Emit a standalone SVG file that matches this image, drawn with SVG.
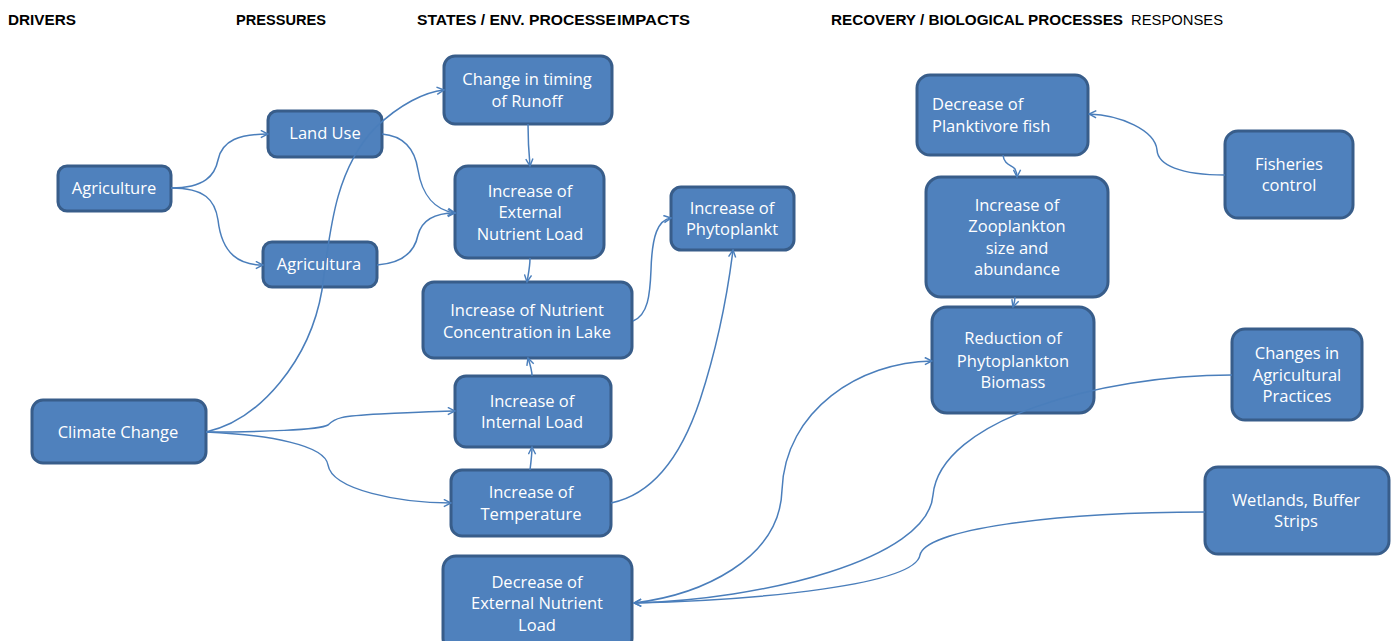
<svg xmlns="http://www.w3.org/2000/svg" width="1396" height="641" viewBox="0 0 1396 641">
  <style>
    .hdr { font-family: "Liberation Sans", Arial, sans-serif; font-size: 14px; fill: #000; }
    .b { font-weight: bold; }
    .node rect { fill: #4f81bd; stroke: #385d8a; stroke-width: 3; }
    .node text { font-family: "Open Sans", "Liberation Sans", sans-serif; font-size: 16.5px; fill: #fff; text-anchor: middle; }
    .node text.left { text-anchor: start; }
    .conn path { fill: none; stroke: #4a7ebb; stroke-width: 1.5; marker-end: url(#arr); }
  </style>
  <defs>
    <marker id="arr" viewBox="0 0 10 10" refX="9" refY="5" markerWidth="9" markerHeight="9" markerUnits="userSpaceOnUse" orient="auto">
      <path d="M1,1 L9,5 L1,9" fill="none" stroke="#4a7ebb" stroke-width="1.6"/>
    </marker>
  </defs>
  <rect width="1396" height="641" fill="#fff"/>

  <!-- column headings -->
  <g id="headers">
    <text class="hdr b" x="8" y="25" textLength="68" lengthAdjust="spacingAndGlyphs">DRIVERS</text>
    <text class="hdr b" x="236" y="25" textLength="90" lengthAdjust="spacingAndGlyphs">PRESSURES</text>
    <text class="hdr b" x="417" y="25" textLength="199" lengthAdjust="spacingAndGlyphs">STATES / ENV. PROCESSE</text>
    <text class="hdr b" x="617" y="25" textLength="73" lengthAdjust="spacingAndGlyphs">IMPACTS</text>
    <text class="hdr b" x="831" y="25" textLength="292" lengthAdjust="spacingAndGlyphs">RECOVERY / BIOLOGICAL PROCESSES</text>
    <text class="hdr" x="1131" y="25" textLength="92" lengthAdjust="spacingAndGlyphs">RESPONSES</text>
  </g>

  <!-- nodes -->
  <g id="agriculture" class="node">
    <rect x="58" y="166" width="113" height="45" rx="9"/>
    <text x="114" y="194">Agriculture</text>
  </g>
  <g id="land-use" class="node">
    <rect x="268" y="111" width="114" height="46" rx="9"/>
    <text x="325" y="139">Land Use</text>
  </g>
  <g id="agricultura" class="node">
    <rect x="263" y="242" width="114" height="45" rx="9"/>
    <text x="319" y="270">Agricultura</text>
  </g>
  <g id="climate-change" class="node">
    <rect x="32" y="400" width="174" height="63" rx="11"/>
    <text x="118" y="438">Climate Change</text>
  </g>
  <g id="runoff-timing" class="node">
    <rect x="444" y="56" width="168" height="68" rx="11"/>
    <text x="527" y="85">Change in timing</text>
    <text x="527" y="107">of Runoff</text>
  </g>
  <g id="external-load-up" class="node">
    <rect x="455" y="166" width="149" height="92" rx="13"/>
    <text x="530" y="197">Increase of</text>
    <text x="530" y="218">External</text>
    <text x="530" y="240">Nutrient Load</text>
  </g>
  <g id="nutrient-conc" class="node">
    <rect x="423" y="282" width="209" height="76" rx="11"/>
    <text x="527" y="316">Increase of Nutrient</text>
    <text x="527" y="338">Concentration in Lake</text>
  </g>
  <g id="internal-load" class="node">
    <rect x="455" y="376" width="156" height="71" rx="11"/>
    <text x="532" y="407">Increase of</text>
    <text x="532" y="428">Internal Load</text>
  </g>
  <g id="temperature" class="node">
    <rect x="451" y="470" width="160" height="66" rx="11"/>
    <text x="531" y="498">Increase of</text>
    <text x="531" y="520">Temperature</text>
  </g>
  <g id="external-load-down" class="node">
    <rect x="443" y="556" width="189" height="95" rx="13"/>
    <text x="537" y="588">Decrease of</text>
    <text x="537" y="609">External Nutrient</text>
    <text x="537" y="631">Load</text>
  </g>
  <g id="phytoplankton-up" class="node">
    <rect x="671" y="187" width="123" height="63" rx="10"/>
    <text x="732" y="214">Increase of</text>
    <text x="732" y="235">Phytoplankt</text>
  </g>
  <g id="planktivore-fish" class="node">
    <rect x="917" y="75" width="171" height="80" rx="13"/>
    <text class="left" x="932" y="110">Decrease of</text>
    <text class="left" x="932" y="132">Planktivore fish</text>
  </g>
  <g id="zooplankton" class="node">
    <rect x="926" y="177" width="182" height="120" rx="15"/>
    <text x="1017" y="211">Increase of</text>
    <text x="1017" y="232">Zooplankton</text>
    <text x="1017" y="254">size and</text>
    <text x="1017" y="275">abundance</text>
  </g>
  <g id="phytoplankton-down" class="node">
    <rect x="932" y="307" width="162" height="106" rx="15"/>
    <text x="1013" y="344">Reduction of</text>
    <text x="1013" y="367">Phytoplankton</text>
    <text x="1013" y="388">Biomass</text>
  </g>
  <g id="fisheries" class="node">
    <rect x="1225" y="131" width="128" height="87" rx="13"/>
    <text x="1289" y="170">Fisheries</text>
    <text x="1289" y="191">control</text>
  </g>
  <g id="agri-practices" class="node">
    <rect x="1232" y="329" width="130" height="91" rx="13"/>
    <text x="1297" y="359">Changes in</text>
    <text x="1297" y="381">Agricultural</text>
    <text x="1297" y="402">Practices</text>
  </g>
  <g id="wetlands" class="node">
    <rect x="1205" y="467" width="184" height="87" rx="13"/>
    <text x="1296" y="506">Wetlands, Buffer</text>
    <text x="1296" y="527">Strips</text>
  </g>

  <!-- connectors, drawn over the boxes they cross -->
  <g id="connectors" class="conn">
    <path d="M171,188 C205,188 215,175 218,160 C222,140 240,134 268,134"/>
    <path d="M171,188 C205,188 215,200 218,220 C222,255 240,265 263,265"/>
    <path d="M206,432 C260,420 310,360 322,290 C330,230 335,170 375,128 C400,104 425,92 444,90"/>
    <path d="M382,134 C405,136 415,150 418,170 C422,195 435,210 455,213"/>
    <path d="M377,265 C405,263 415,250 418,235 C422,220 435,213 455,213"/>
    <path d="M528,124 C528,140 529,155 530,166"/>
    <path d="M530,258 C530,268 528,275 527,282"/>
    <path d="M633,321 C648,315 650,295 651,270 C652,235 658,220 671,218"/>
    <path d="M611,503 C650,495 680,460 700,400 C718,345 728,290 733,250"/>
    <path d="M532,376 C532,370 530,364 528,358"/>
    <path d="M530,470 C531,462 532,454 532,447"/>
    <path d="M206,432 C260,432 320,430 328,425 C335,418 340,416 380,414 C420,412 440,411 455,411"/>
    <path d="M206,432 C270,435 325,445 328,465 C332,490 400,503 451,503"/>
    <path d="M1003,155 C1004,165 1012,165 1015,169 C1016,171 1017,174 1017,177"/>
    <path d="M1015,297 C1015,300 1014,304 1013,307"/>
    <path d="M1225,175 C1180,175 1158,165 1157,150 C1155,130 1120,115 1089,114"/>
    <path d="M634,603 C700,595 780,560 782,490 C785,410 860,362 932,361"/>
    <path d="M1232,375 C1100,375 940,420 933,495 C928,560 760,600 634,603"/>
    <path d="M1205,512 C1050,512 925,530 920,555 C915,585 760,600 634,603"/>
  </g>
</svg>
